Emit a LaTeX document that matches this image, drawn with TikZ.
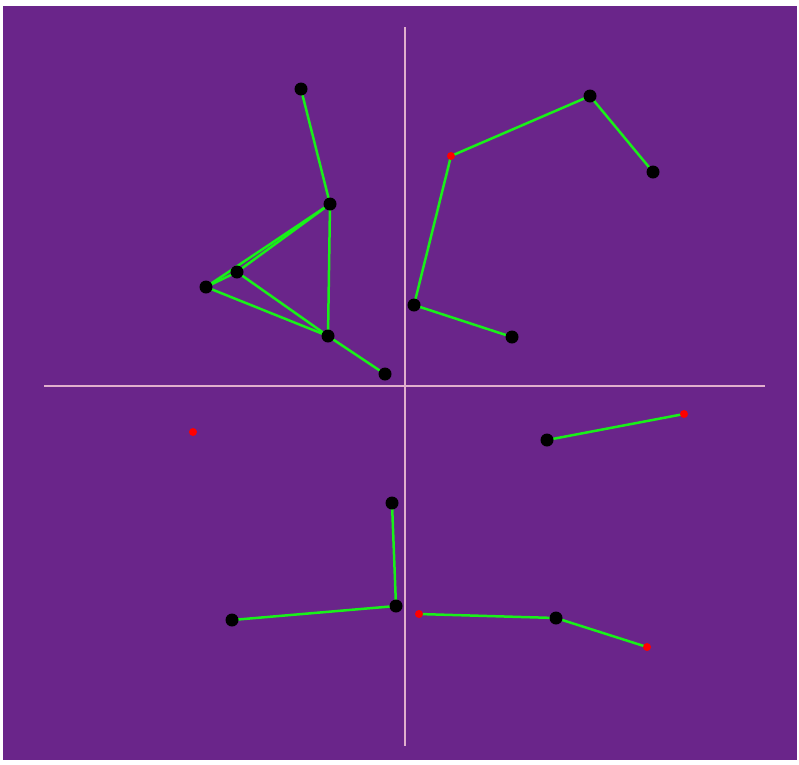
\documentclass[tikz,border=0pt]{standalone}
\begin{document}
\begin{tikzpicture}[x=1pt,y=-1pt,
  bg/.style={fill=purplebg,draw=none},
  axis/.style={draw=axiscol,line width=1.2pt},
  edge/.style={draw=edgegreen,line width=2.5pt},
  bdot/.style={circle,fill=black,inner sep=0pt,minimum size=13pt},
  rdot/.style={circle,fill=red,inner sep=0pt,minimum size=8pt}]
\definecolor{purplebg}{RGB}{106,37,138}
\definecolor{axiscol}{RGB}{225,175,205}
\definecolor{edgegreen}{RGB}{25,240,25}
\useasboundingbox (0,0) rectangle (799,764);
\fill[white] (0,0) rectangle (799,764);
\fill[bg] (3,6) rectangle (797,760);
% axes
\coordinate (vt) at (405,27);
\coordinate (vb) at (405,746);
\coordinate (hl) at (44,386);
\coordinate (hr) at (765,386);
\draw[axis] (vt) -- (vb);
\draw[axis] (hl) -- (hr);
% points
\coordinate (A) at (301,89);
\coordinate (B) at (330,204);
\coordinate (C) at (237,272);
\coordinate (D) at (206,287);
\coordinate (E) at (328,336);
\coordinate (F) at (385,374);
\coordinate (G) at (451,156);
\coordinate (H) at (590,96);
\coordinate (I) at (653,172);
\coordinate (J) at (414,305);
\coordinate (K) at (512,337);
\coordinate (L) at (193,432);
\coordinate (M) at (547,440);
\coordinate (N) at (684,414);
\coordinate (O) at (392,503);
\coordinate (P) at (396,606);
\coordinate (Q) at (232,620);
\coordinate (R) at (419,614);
\coordinate (S) at (556,618);
\coordinate (T) at (647,647);
% edges
\draw[edge] (A) -- (B);
\draw[edge] (B) -- (C);
\draw[edge] (B) -- (D);
\draw[edge] (C) -- (D);
\draw[edge] (D) -- (E);
\draw[edge] (C) -- (E);
\draw[edge] (B) -- (E);
\draw[edge] (E) -- (F);
\draw[edge] (G) -- (H);
\draw[edge] (H) -- (I);
\draw[edge] (G) -- (J);
\draw[edge] (J) -- (K);
\draw[edge] (M) -- (N);
\draw[edge] (O) -- (P);
\draw[edge] (P) -- (Q);
\draw[edge] (R) -- (S);
\draw[edge] (S) -- (T);
% dots
\foreach \p in {A,B,C,D,E,F,H,I,J,K,M,O,P,Q,S}
  \node[bdot] (\p-dot) at (\p) {};
\foreach \p in {G,L,N,R,T}
  \node[rdot] (\p-dot) at (\p) {};
\end{tikzpicture}
\end{document}
